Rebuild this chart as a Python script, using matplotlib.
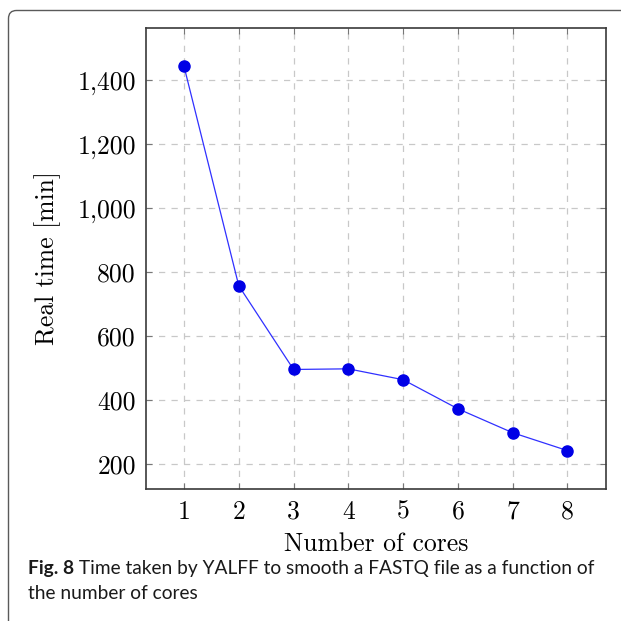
import matplotlib
matplotlib.use("Agg")
import matplotlib.pyplot as plt
from matplotlib.patches import PathPatch
from matplotlib.path import Path
from matplotlib.ticker import FixedLocator, FixedFormatter

cores = [1, 2, 3, 4, 5, 6, 7, 8]
real_time = [1444, 757, 495, 497, 463, 372, 297, 241]
y_ticks = [200, 400, 600, 800, 1000, 1200, 1400]
y_tick_labels = ["200", "400", "600", "800", "1,000", "1,200", "1,400"]
x_label = "Number of cores"
y_label = "Real time [min]"
caption_bold = "Fig. 8"
caption_line1 = " Time taken by YALFF to smooth a FASTQ file as a function of"
caption_line2 = "the number of cores"

W = H = 621
fig = plt.figure(figsize=(W / 100, H / 100), dpi=100)
fig.patch.set_facecolor("white")

# outer frame: left edge and top edge with rounded top-left corner (pixel coords, y down)
fx, fy, rr = 8.5, 10.5, 8.0
verts_px = [(fx, H + 20), (fx, fy + rr), (fx, fy), (fx + rr, fy), (W + 20, fy)]
codes = [Path.MOVETO, Path.LINETO, Path.CURVE3, Path.CURVE3, Path.LINETO]
verts = [(vx / W, 1 - vy / H) for vx, vy in verts_px]
frame = PathPatch(Path(verts, codes), transform=fig.transFigure, fill=False,
                  edgecolor="#5a5a5a", linewidth=1.0)
fig.patches.append(frame)

ax = fig.add_axes([145.7 / W, 1 - 489 / H, (605.7 - 145.7) / W, (489 - 28) / H])
ax.plot(cores, real_time, color="#3030ff", linewidth=0.9, marker="o",
        markersize=8, markerfacecolor="#0000e6", markeredgecolor="#0000e6",
        zorder=3)

span_x = max(cores) - min(cores)
ax.set_xlim(min(cores) - 0.1 * span_x, max(cores) + 0.1 * span_x)
span_y = max(real_time) - min(real_time)
ax.set_ylim(min(real_time) - 0.1 * span_y, max(real_time) + 0.1 * span_y)

ax.xaxis.set_major_locator(FixedLocator(cores))
ax.set_xticklabels([str(c) for c in cores])
ax.yaxis.set_major_locator(FixedLocator(y_ticks))
ax.yaxis.set_major_formatter(FixedFormatter(y_tick_labels))

ax.grid(True, color="#c8c8c8", linestyle=(0, (5, 5)), linewidth=0.9)
ax.set_axisbelow(True)
for s in ax.spines.values():
    s.set_color("#3a3a3a")
    s.set_linewidth(1.2)
ax.tick_params(axis="both", direction="in", length=4, width=0.8,
               color="#777777", labelsize=18.5, labelfontfamily="cmr10",
               top=True, right=True)
ax.tick_params(axis="x", pad=8)
ax.tick_params(axis="y", pad=7)

ax.set_xlabel(x_label, fontsize=18.5, family="cmr10", labelpad=6)
ax.set_ylabel(y_label, fontsize=18.5, family="cmr10", labelpad=12)

fig.canvas.draw()
r = fig.canvas.get_renderer()
cap_font = "Lato"
cap_size = 13.75
x0 = 28 / W
t1 = fig.text(x0, 1 - 574 / H, caption_bold, fontsize=cap_size, family=cap_font,
              fontweight="bold", color="#1a1a1a", va="baseline")
bb = t1.get_window_extent(r)
fig.text(bb.x1 / W, 1 - 574 / H, caption_line1, fontsize=cap_size, family=cap_font,
         color="#1a1a1a", va="baseline")
fig.text(x0, 1 - 599 / H, caption_line2, fontsize=cap_size, family=cap_font,
         color="#1a1a1a", va="baseline")

fig.savefig("out.png", dpi=100)
